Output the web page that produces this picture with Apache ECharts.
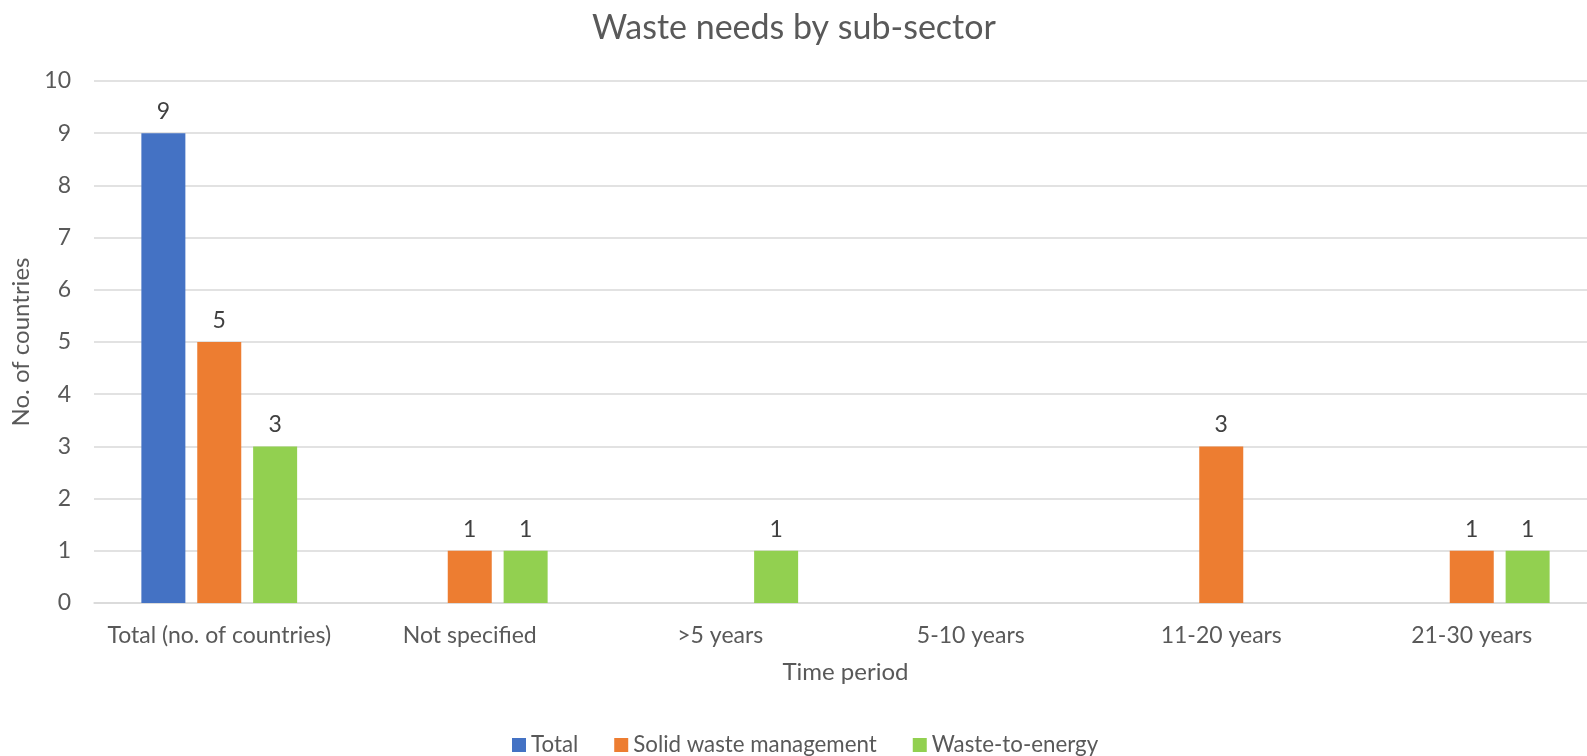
<!DOCTYPE html>
<html>
<head>
<meta charset="utf-8">
<script src="https://cdn.jsdelivr.net/npm/echarts@6/dist/echarts.min.js"></script>
<style>
html,body{margin:0;padding:0;background:#fff;overflow:hidden;}
#chart{width:1600px;height:756px;}
</style>
</head>
<body>
<div id="chart"></div>
<script>
const categories = ["Total (no. of countries)", "Not specified", ">5 years", "5-10 years", "11-20 years", "21-30 years"];
const totalValues = [9, null, null, null, null, null];
const solidWasteValues = [5, 1, null, null, 3, 1];
const wasteToEnergyValues = [3, 1, 1, null, null, 1];
const seriesNames = ["Total", "Solid waste management", "Waste-to-energy"];
const yTicks = {min: 0, max: 10, interval: 1};

const FONT = "Lato";
const TXT = "#595959";
const chart = echarts.init(document.getElementById('chart'));
const labelCfg = {show: true, position: 'top', distance: 10, fontFamily: FONT, fontSize: 23, color: '#404040'};
function bar(name, data, color) {
  return {
    name: name, type: 'bar', data: data, barWidth: 44, barGap: '27%',
    itemStyle: {color: color}, label: labelCfg, animation: false
  };
}
chart.setOption({
  animation: false,
  title: {
    text: "Waste needs by sub-sector", left: 587, top: 6,
    textStyle: {fontFamily: FONT, fontSize: 34, fontWeight: 'normal', color: TXT}
  },
  legend: {
    data: seriesNames, left: 507, top: 729, icon: 'rect', itemWidth: 14, itemHeight: 14, itemGap: 36,
    textStyle: {fontFamily: FONT, fontSize: 22.3, color: TXT}
  },
  grid: {left: 94, top: 81, width: 1503, height: 522, containLabel: false},
  xAxis: {
    type: 'category', data: categories,
    name: "Time period", nameLocation: 'middle', nameGap: 57,
    nameTextStyle: {fontFamily: FONT, fontSize: 24, color: TXT},
    axisLine: {show: true, lineStyle: {color: '#D9D9D9', width: 1.5}},
    axisTick: {show: false},
    axisLabel: {fontFamily: FONT, fontSize: 23, color: TXT, margin: 21, interval: 0}
  },
  yAxis: {
    type: 'value', min: yTicks.min, max: yTicks.max, interval: yTicks.interval,
    name: "No. of countries", nameLocation: 'middle', nameGap: 60,
    nameTextStyle: {fontFamily: FONT, fontSize: 24, color: TXT},
    axisLine: {show: false}, axisTick: {show: false},
    axisLabel: {fontFamily: FONT, fontSize: 23, color: TXT, margin: 23},
    splitLine: {lineStyle: {color: '#D9D9D9', width: 1.5}}
  },
  series: [
    bar(seriesNames[0], totalValues, '#4472C4'),
    bar(seriesNames[1], solidWasteValues, '#ED7D31'),
    bar(seriesNames[2], wasteToEnergyValues, '#92D050')
  ]
});
</script>
</body>
</html>
